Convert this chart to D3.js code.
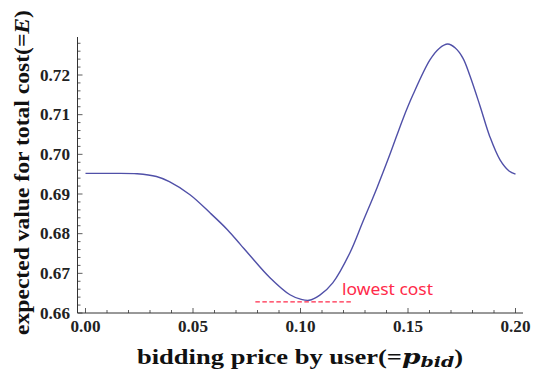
<!DOCTYPE html>
<html><head><meta charset="utf-8">
<script src="https://cdn.jsdelivr.net/npm/d3@7"></script>
<style>body{margin:0;background:#fff}</style>
</head><body>
<svg id="c" width="542" height="375"></svg>
<script>
const bidPrice = [0.000,0.011,0.024,0.033,0.039,0.0486,0.058,0.066,0.072,0.0765,0.0858,0.0951,0.100,0.104,0.109,0.115,0.123,0.129,0.1356,0.1416,0.1477,0.1523,0.1602,0.1645,0.1685,0.172,0.1756,0.1788,0.1835,0.1881,0.1928,0.197,0.200];
const expCost  = [0.6952,0.6952,0.6951,0.6944,0.6931,0.6898,0.6852,0.6810,0.6773,0.6745,0.6689,0.6646,0.6635,0.6632,0.6645,0.6676,0.6752,0.6830,0.6916,0.7000,0.7090,0.7150,0.7238,0.7267,0.7278,0.7268,0.7242,0.7198,0.7122,0.7044,0.6986,0.6958,0.6950];
const xTicks = [0.00,0.05,0.10,0.15,0.20];
const yTicks = [0.66,0.67,0.68,0.69,0.70,0.71,0.72];
const lowest = {x0:0.079, x1:0.124, y:0.6628, label:"lowest cost"};

const svg = d3.select("#c");
const x = d3.scaleLinear().domain([0,0.2]).range([85.5,515.5]);
const y = d3.scaleLinear().domain([0.66,0.72]).range([313,75]);
const axisX0 = 77.5, axisY = 313, xEnd = 523, yTop = 37;
const axisColor = "#333";
const serif = "'Liberation Serif','Times New Roman',serif";

svg.append("line").attr("x1",axisX0).attr("x2",xEnd).attr("y1",axisY).attr("y2",axisY).attr("stroke",axisColor).attr("stroke-width",1);
svg.append("line").attr("x1",axisX0).attr("x2",axisX0).attr("y1",axisY).attr("y2",yTop).attr("stroke",axisColor).attr("stroke-width",1);

const xMinor = d3.range(0,0.2035,0.01);
svg.selectAll(".xm").data(xMinor).join("line")
  .attr("x1",d=>x(d)).attr("x2",d=>x(d))
  .attr("y1",axisY).attr("y2",d=> (Math.abs(d*20-Math.round(d*20))<1e-6)? axisY-5 : axisY-3)
  .attr("stroke",axisColor).attr("stroke-width",0.8);
svg.selectAll(".xl").data(xTicks).join("text")
  .attr("x",d=>x(d)-15).attr("y",332)
  .attr("textLength",30).attr("lengthAdjust","spacingAndGlyphs")
  .attr("font-family",serif).attr("font-weight","bold").attr("font-size",16.5)
  .attr("fill","#222").text(d=>d.toFixed(2));

const yMinor = d3.range(0.66,0.7295,0.002);
svg.selectAll(".ym").data(yMinor).join("line")
  .attr("y1",d=>y(d)).attr("y2",d=>y(d))
  .attr("x1",axisX0).attr("x2",d=> (Math.abs(d*100-Math.round(d*100))<1e-6)? axisX0+5 : axisX0+3)
  .attr("stroke",axisColor).attr("stroke-width",0.8);
svg.selectAll(".yl").data(yTicks).join("text")
  .attr("x",40).attr("y",d=>y(d)+5.5)
  .attr("textLength",30).attr("lengthAdjust","spacingAndGlyphs")
  .attr("font-family",serif).attr("font-weight","bold").attr("font-size",16.5)
  .attr("fill","#222").text(d=>d.toFixed(2));

const pts = bidPrice.map((b,i)=>[b,expCost[i]]);
svg.append("path").datum(pts)
  .attr("d",d3.line().x(d=>x(d[0])).y(d=>y(d[1])).curve(d3.curveCatmullRom.alpha(0.5)))
  .attr("fill","none").attr("stroke","#5050a8").attr("stroke-width",1.4);

svg.append("line").attr("x1",x(lowest.x0)).attr("x2",x(lowest.x1))
  .attr("y1",y(lowest.y)).attr("y2",y(lowest.y))
  .attr("stroke","#ff2a4a").attr("stroke-width",1.4).attr("stroke-dasharray","4.5,2.5");
svg.append("text").attr("x",342).attr("y",295)
  .attr("textLength",91).attr("lengthAdjust","spacingAndGlyphs")
  .attr("font-family","'Noto Sans'").attr("font-size",17).attr("fill","#ff2a4a").text(lowest.label);

const xt = svg.append("text").attr("x",137).attr("y",364)
  .attr("textLength",326).attr("lengthAdjust","spacingAndGlyphs")
  .attr("font-family",serif).attr("font-weight","bold").attr("font-size",21).attr("fill","#111");
xt.append("tspan").text("bidding price by user(=");
xt.append("tspan").attr("font-family","'DejaVu Serif'").attr("font-style","italic").attr("font-size",21).text("p");
xt.append("tspan").attr("font-family","'DejaVu Serif'").attr("font-style","italic").attr("font-size",15).attr("dy",3).text("bid");
xt.append("tspan").attr("dy",-3).text(")");

const yt = svg.append("text").attr("transform","translate(29,335) rotate(-90)")
  .attr("textLength",325).attr("lengthAdjust","spacingAndGlyphs")
  .attr("font-family",serif).attr("font-weight","bold").attr("font-size",20).attr("fill","#111");
yt.append("tspan").text("expected value for total cost(=");
yt.append("tspan").attr("font-style","italic").text("E");
yt.append("tspan").text(")");
</script>
</body></html>
